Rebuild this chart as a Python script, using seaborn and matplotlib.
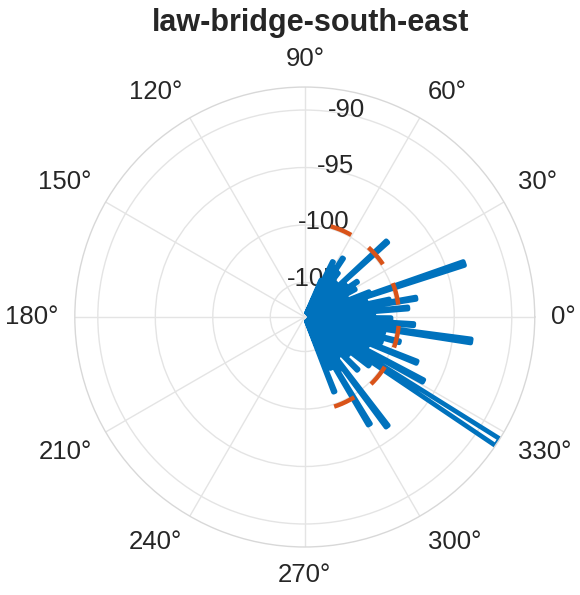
import numpy as np
import matplotlib
matplotlib.use("Agg")
import matplotlib.pyplot as plt
import seaborn as sns

# lobes of the received-signal pattern (angle in degrees, peak in dBm, half width in degrees)
lobe_deg = [66, 63, 60, 57, 53, 48, 42.5, 38, 34, 29, 25, 21, 18.6, 14, 11.5,
            9.6, 7, 5, 2, -1, -4, -8.2, -11, -14.7, -18, -22, -25, -28.4,
            -33, -37, -41, -45, -50, -53, -56, -59, -63, -68.5]
lobe_dbm = [-104.5, -102.6, -103.0, -101.9, -103.2, -104.0, -98.3, -103.5, -102.5,
            -103.0, -104.0, -102.0, -93.4, -102.5, -100.5, -98.2, -101.5, -99.0,
            -102.0, -100.5, -98.5, -93.4, -101.0, -99.5, -101.0, -97.5, -102.0,
            -96.3, -88.0, -101.0, -103.0, -101.5, -103.5, -96.1, -102.5, -97.1,
            -103.0, -101.0]
lobe_hw = [0.6, 0.6, 0.6, 0.6, 0.6, 0.6, 0.6, 0.6, 0.6, 0.6, 0.6, 0.6, 0.7, 0.6, 0.6,
           0.6, 0.6, 0.6, 0.6, 0.6, 0.6, 0.7, 0.6, 0.6, 0.6, 0.6, 0.6, 0.6,
           1.0, 0.6, 0.6, 0.6, 0.6, 0.6, 0.6, 0.6, 0.6, 0.6]
base_dbm = -107.6

# reference level (dashed arc)
ref_dbm = -99.8
ref_deg = [74, -72]

r_ticks = [-105, -100, -95, -90]
r_lim = [-108, -88]
theta_ticks = list(range(0, 360, 30))

blue = "#0072BD"
orange = "#D95319"
grid_c = "#e4e4e4"
text_c = "#262626"

sns.set_theme(style="white")
plt.rcParams["font.family"] = ["Liberation Sans", "DejaVu Sans"]

# build the closed trace lobe by lobe
theta, rr = [], []
for a, p, w in zip(lobe_deg, lobe_dbm, lobe_hw):
    theta += [a + 1.5 * w, a + w, a - w, a - 1.5 * w]
    rr += [base_dbm, p, p, base_dbm]
theta = np.deg2rad(theta)

fig = plt.figure(figsize=(5.8, 5.95), dpi=100)
ax = fig.add_axes([0.129, 0.0807, 0.793, 0.773], projection="polar")
ax.set_axisbelow(True)

sns.lineplot(x=theta, y=rr, ax=ax, sort=False, estimator=None, color=blue,
             linewidth=3.4, solid_joinstyle="round", solid_capstyle="round")

arc = np.deg2rad(np.linspace(ref_deg[0], ref_deg[1], 200))
ax.plot(arc, np.full(arc.size, ref_dbm), color=orange, linewidth=3.2,
        linestyle=(0, (5.0, 4.8)), zorder=3)

ax.set_rlim(r_lim[0], r_lim[1])
ax.set_rticks(r_ticks)
ax.set_yticklabels([])
ax.set_thetagrids(theta_ticks, labels=[])
ax.set_xlabel("")
ax.set_ylabel("")

ax.grid(True, color=grid_c, linewidth=1.0)
ax.spines["polar"].set_color("#d8d8d8")
ax.spines["polar"].set_linewidth(1.0)

# angle labels, aligned away from the circle
r_lab = r_lim[1] + 1.4
for t in theta_ticks:
    c, s = np.cos(np.deg2rad(t)), np.sin(np.deg2rad(t))
    ha = "left" if c > 0.1 else ("right" if c < -0.1 else "center")
    va = "bottom" if s > 0.1 else ("top" if s < -0.1 else "center")
    ax.text(np.deg2rad(t), r_lab, f"{t}°", ha=ha, va=va, fontsize=18.5,
            color=text_c, clip_on=False)

# radial labels near the 80 degree spoke, drawn beneath the trace
for rt in r_ticks:
    ax.text(np.deg2rad(78.5), rt + 0.4, str(rt), ha="center", va="center",
            fontsize=18.5, color=text_c, zorder=1)

fig.text(0.536, 0.948, "law-bridge-south-east", ha="center", va="baseline",
         fontsize=22, fontweight="bold", color=text_c)

fig.savefig("out.png", dpi=100)
